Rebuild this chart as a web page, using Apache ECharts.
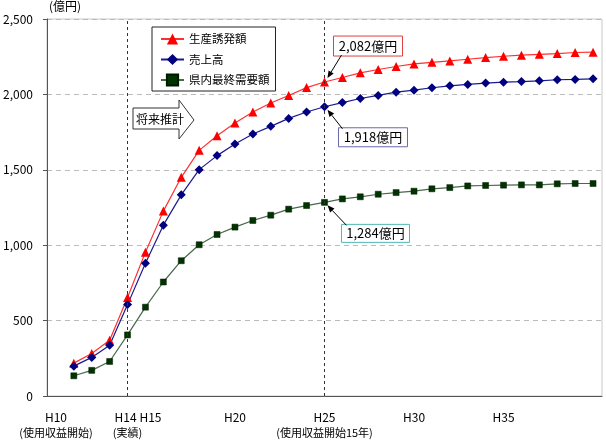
<!DOCTYPE html>
<html>
<head>
<meta charset="utf-8">
<script src="https://cdn.jsdelivr.net/npm/echarts@6/dist/echarts.min.js"></script>
<style>
html,body{margin:0;padding:0;background:#fff;}
#main{width:606px;height:440px;}
</style>
</head>
<body>
<div id="main"></div>
<script>
var years = ['H10','H11','H12','H13','H14','H15','H16','H17','H18','H19','H20','H21','H22','H23','H24','H25',
	'H26','H27','H28','H29','H30','H31','H32','H33','H34','H35','H36','H37','H38','H39','H40'];
var shownLabels = ['H10','H14','H15','H20','H25','H30','H35'];
var subLabels = {'H10':'(使用収益開始)', 'H14':'(実績)', 'H25':'(使用収益開始15年)'};
var markYears = ['H14','H25'];

var seisan = [null,218,282,370,653,954,1226,1450,1629,1726,1810,1883,1943,1993,2045,2082,
	2112,2143,2165,2185,2202,2213,2222,2233,2244,2253,2260,2266,2271,2278,2280];
var uriage = [null,198,256,337,606,880,1133,1334,1501,1594,1671,1737,1788,1841,1883,1918,
	1946,1973,1993,2015,2028,2044,2057,2066,2075,2081,2085,2090,2097,2099,2103];
var kennai = [null,134,170,229,405,589,756,897,1003,1071,1120,1164,1199,1239,1263,1284,
	1307,1321,1338,1349,1358,1374,1382,1393,1396,1398,1400,1400,1407,1409,1409];

var font = '"Noto Sans CJK JP", sans-serif';
var myChart = echarts.init(document.getElementById('main'));

var option = {
	animation: false,
	textStyle: {fontFamily: font},
	grid: {left: 44, right: 4, top: 19, bottom: 43, show: true, borderColor: '#c8c8c8', borderWidth: 1},
	legend: {
		orient: 'vertical',
		left: 152, top: 27,
		padding: [5, 6, 4, 8],
		itemWidth: 23, itemHeight: 14, itemGap: 6.5,
		borderColor: '#222', borderWidth: 1, backgroundColor: '#fff',
		textStyle: {fontSize: 11.5, lineHeight: 14, color: '#000', fontFamily: font},
		data: ['生産誘発額','売上高','県内最終需要額']
	},
	xAxis: {
		type: 'category',
		data: years,
		axisLine: {lineStyle: {color: '#555'}},
		axisTick: {inside: true, length: 5, interval: 0, lineStyle: {color: '#777'}},
		axisLabel: {
			interval: function(idx, v) { return shownLabels.indexOf(v) >= 0; },
			margin: 14,
			fontSize: 12, color: '#000', lineHeight: 15,
			formatter: function(v) {
				var head = v === 'H14' ? '{l|' + v + '}' : (v === 'H15' ? '{r|' + v + '}' : v);
				return subLabels[v] ? head + '\n{s|' + subLabels[v] + '}' : head;
			},
			rich: {
				s: {fontSize: 11, lineHeight: 15, color: '#000'},
				l: {fontSize: 12, lineHeight: 15, color: '#000', padding: [0, 4, 0, 0]},
				r: {fontSize: 12, lineHeight: 15, color: '#000', padding: [0, 0, 0, 10]}
			}
		},
		splitLine: {show: false}
	},
	yAxis: {
		type: 'value',
		min: 0, max: 2500, interval: 500,
		name: '(億円)',
		nameLocation: 'end',
		nameGap: 7,
		nameTextStyle: {fontSize: 12, color: '#000', align: 'center', padding: [0, 0, 0, 36], fontFamily: font},
		axisLine: {show: true, lineStyle: {color: '#555'}},
		axisTick: {show: true, length: 4, lineStyle: {color: '#555'}},
		axisLabel: {fontSize: 12, color: '#000', margin: 14},
		splitLine: {lineStyle: {color: '#bbb', type: [5, 4]}}
	},
	series: [
		{
			name: '生産誘発額', type: 'line', data: seisan,
			symbol: 'triangle', symbolSize: 9,
			itemStyle: {color: '#ff0000'},
			lineStyle: {color: '#ff3030', width: 1.2},
			markLine: {
				silent: true, symbol: 'none', label: {show: false},
				lineStyle: {color: '#333', type: [3, 3], width: 1},
				data: markYears.map(function(y) { return {xAxis: y}; })
			}
		},
		{
			name: '売上高', type: 'line', data: uriage,
			symbol: 'diamond', symbolSize: 9,
			itemStyle: {color: '#000080'},
			lineStyle: {color: '#1a1a90', width: 1.2}
		},
		{
			name: '県内最終需要額', type: 'line', data: kennai,
			symbol: 'rect', symbolSize: 6,
			itemStyle: {color: '#003300', borderColor: '#001a00', borderWidth: 0.5},
			lineStyle: {color: '#4a684a', width: 1.2}
		}
	]
};
myChart.setOption(option);

// callouts pointing at the H25 values
var idx25 = years.indexOf('H25');
var callouts = [
	{val: seisan[idx25], text: '2,082億円', border: '#e04040', box: [9, -46, 69, 20], from: [17, -27]},
	{val: uriage[idx25], text: '1,918億円', border: '#6a6aa8', box: [14, 21, 69, 19], from: [18, 22]},
	{val: kennai[idx25], text: '1,284億円', border: '#50b8b8', box: [17, 22, 68, 18], from: [22, 23]}
];
var graphics = [];
callouts.forEach(function(c) {
	var p = myChart.convertToPixel({gridIndex: 0}, ['H25', c.val]);
	var bx = p[0] + c.box[0], by = p[1] + c.box[1];
	graphics.push({
		type: 'rect', shape: {x: bx, y: by, width: c.box[2], height: c.box[3]},
		style: {fill: '#fff', stroke: c.border, lineWidth: 1}, z: 100
	});
	graphics.push({
		type: 'text', x: bx + c.box[2] / 2, y: by + c.box[3] / 2,
		style: {text: c.text, fill: '#000', font: '13px ' + font, align: 'center', verticalAlign: 'middle'}, z: 101
	});
	// arrow
	var sx = p[0] + c.from[0], sy = p[1] + c.from[1];
	var ex = p[0] + 3, ey = p[1] + (c.from[1] > 0 ? 3 : -4);
	var ang = Math.atan2(ey - sy, ex - sx), hl = 7, hw = 3;
	var bxh = ex - hl * Math.cos(ang), byh = ey - hl * Math.sin(ang);
	graphics.push({
		type: 'line', shape: {x1: sx, y1: sy, x2: bxh, y2: byh},
		style: {stroke: '#000', lineWidth: 1}, z: 100
	});
	graphics.push({
		type: 'polygon',
		shape: {points: [[ex, ey],
			[bxh + hw * Math.sin(ang), byh - hw * Math.cos(ang)],
			[bxh - hw * Math.sin(ang), byh + hw * Math.cos(ang)]]},
		style: {fill: '#000'}, z: 100
	});
});
// "将来推計" block arrow
graphics.push({
	type: 'polygon',
	shape: {points: [[133,108],[179,108],[179,100],[194,120],[179,139],[179,129],[133,129]]},
	style: {fill: '#fff', stroke: '#333', lineWidth: 1}, z: 100
});
graphics.push({
	type: 'text', x: 136, y: 119,
	style: {text: '将来推計', fill: '#000', font: '12px ' + font, verticalAlign: 'middle'}, z: 101
});
myChart.setOption({graphic: graphics});
</script>
</body>
</html>
